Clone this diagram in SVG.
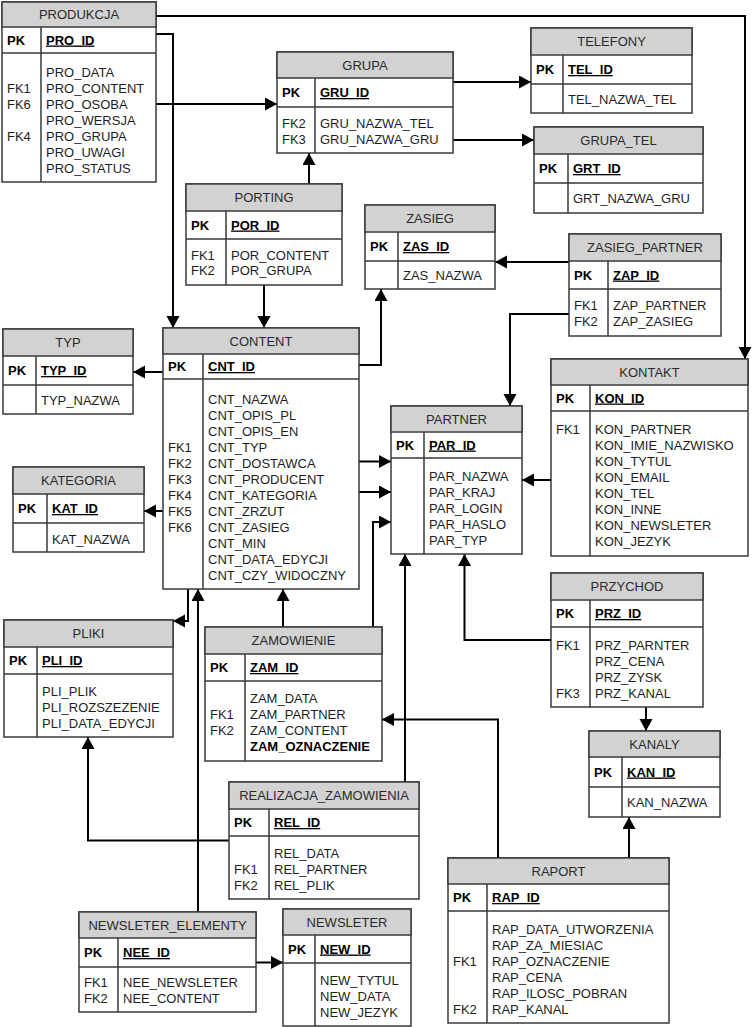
<svg xmlns="http://www.w3.org/2000/svg" width="753" height="1027" viewBox="0 0 753 1027">
<defs>
<marker id="arr" markerUnits="userSpaceOnUse" markerWidth="13" markerHeight="14" refX="12" refY="6.5" orient="auto"><path d="M0,0 L12,6.5 L0,13 z" fill="#000"/></marker>
<style>
.box{fill:#fff;stroke:#3a3a3a;stroke-width:1.5}
.hdr{fill:#d2d2d2;stroke:#3a3a3a;stroke-width:1.5}
.ln{stroke:#3a3a3a;stroke-width:1.5;fill:none}
.c{fill:none;stroke:#000;stroke-width:2;marker-end:url(#arr)}
text{font-family:"Liberation Sans",Arial,sans-serif;font-size:13px;fill:#1e1e1e}
.t{text-anchor:middle;fill:#2a2a2a}
.pk{font-weight:bold;fill:#000}
.id{font-weight:bold;fill:#000;text-decoration:underline}
.b{font-weight:bold;fill:#000}
</style>
</defs>
<g id="connectors">
<path class="c" d="M156,16 H745 V359"/>
<path class="c" d="M156,34 H173 V328"/>
<path class="c" d="M156,104 H277"/>
<path class="c" d="M309,184 V153"/>
<path class="c" d="M453,82 H531"/>
<path class="c" d="M453,140 H534"/>
<path class="c" d="M264,285 V328"/>
<path class="c" d="M163,372 H133"/>
<path class="c" d="M359,365 H381 V289"/>
<path class="c" d="M163,511 H144"/>
<path class="c" d="M359,461.5 H391"/>
<path class="c" d="M359,492 H391"/>
<path class="c" d="M373,627 V522 H391"/>
<path class="c" d="M283,627 V589"/>
<path class="c" d="M188,589 V621 H173"/>
<path class="c" d="M198,912 V589"/>
<path class="c" d="M229,840.5 H88 V737"/>
<path class="c" d="M405,782 V554"/>
<path class="c" d="M551,640 H464.5 V554"/>
<path class="c" d="M551,480 H522"/>
<path class="c" d="M569,262 H495"/>
<path class="c" d="M569,314 H510 V406"/>
<path class="c" d="M646,707 V731"/>
<path class="c" d="M629,858 V817"/>
<path class="c" d="M498,858 V719.5 H382"/>
<path class="c" d="M256,962.5 H283"/>
</g>

<g id="PRODUKCJA">
<rect class="box" x="2" y="2" width="154" height="180"/>
<rect class="hdr" x="2" y="2" width="154" height="25"/>
<path class="ln" d="M2,53 H156 M41,27 V182"/>
<text class="t" x="79" y="19">PRODUKCJA</text>
<text class="pk" x="7" y="44.5">PK</text>
<text class="id" x="46" y="44.5">PRO_ID</text>
<text x="7" y="92.5">FK1</text><text x="7" y="108.5">FK6</text><text x="7" y="140.5">FK4</text>
<text x="46" y="76.5">PRO_DATA</text>
<text x="46" y="92.5">PRO_CONTENT</text>
<text x="46" y="108.5">PRO_OSOBA</text>
<text x="46" y="124.5">PRO_WERSJA</text>
<text x="46" y="140.5">PRO_GRUPA</text>
<text x="46" y="156.5">PRO_UWAGI</text>
<text x="46" y="172.5">PRO_STATUS</text>
</g>

<g id="GRUPA">
<rect class="box" x="277" y="52" width="176" height="101"/>
<rect class="hdr" x="277" y="52" width="176" height="26"/>
<path class="ln" d="M277,107 H453 M315,78 V153"/>
<text class="t" x="365" y="69.5">GRUPA</text>
<text class="pk" x="282" y="97">PK</text>
<text class="id" x="320" y="97">GRU_ID</text>
<text x="282" y="127.5">FK2</text><text x="282" y="143.5">FK3</text>
<text x="320" y="127.5">GRU_NAZWA_TEL</text>
<text x="320" y="143.5">GRU_NAZWA_GRU</text>
</g>

<g id="TELEFONY">
<rect class="box" x="531" y="28" width="161" height="85"/>
<rect class="hdr" x="531" y="28" width="161" height="27"/>
<path class="ln" d="M531,84 H692 M563,55 V113"/>
<text class="t" x="611.5" y="46">TELEFONY</text>
<text class="pk" x="536" y="74">PK</text>
<text class="id" x="568" y="74">TEL_ID</text>
<text x="568" y="104">TEL_NAZWA_TEL</text>
</g>

<g id="GRUPA_TEL">
<rect class="box" x="534" y="127" width="169" height="86"/>
<rect class="hdr" x="534" y="127" width="169" height="27"/>
<path class="ln" d="M534,183 H703 M568,154 V213"/>
<text class="t" x="618.5" y="145">GRUPA_TEL</text>
<text class="pk" x="539" y="173">PK</text>
<text class="id" x="573" y="173">GRT_ID</text>
<text x="573" y="203">GRT_NAZWA_GRU</text>
</g>

<g id="PORTING">
<rect class="box" x="186" y="184" width="156" height="101"/>
<rect class="hdr" x="186" y="184" width="156" height="27"/>
<path class="ln" d="M186,239 H342 M226,211 V285"/>
<text class="t" x="264" y="202">PORTING</text>
<text class="pk" x="191" y="229.5">PK</text>
<text class="id" x="231" y="229.5">POR_ID</text>
<text x="191" y="259.5">FK1</text><text x="191" y="275">FK2</text>
<text x="231" y="259.5">POR_CONTENT</text>
<text x="231" y="275">POR_GRUPA</text>
</g>

<g id="CONTENT">
<rect class="box" x="163" y="328" width="196" height="261"/>
<rect class="hdr" x="163" y="328" width="196" height="26"/>
<path class="ln" d="M163,379 H359 M203,354 V589"/>
<text class="t" x="261" y="345.5">CONTENT</text>
<text class="pk" x="168" y="371">PK</text>
<text class="id" x="208" y="371">CNT_ID</text>
<text x="168" y="451.5">FK1</text><text x="168" y="467.5">FK2</text><text x="168" y="483.5">FK3</text>
<text x="168" y="499.5">FK4</text><text x="168" y="515.5">FK5</text><text x="168" y="531.5">FK6</text>
<text x="208" y="403.5">CNT_NAZWA</text>
<text x="208" y="419.5">CNT_OPIS_PL</text>
<text x="208" y="435.5">CNT_OPIS_EN</text>
<text x="208" y="451.5">CNT_TYP</text>
<text x="208" y="467.5">CNT_DOSTAWCA</text>
<text x="208" y="483.5">CNT_PRODUCENT</text>
<text x="208" y="499.5">CNT_KATEGORIA</text>
<text x="208" y="515.5">CNT_ZRZUT</text>
<text x="208" y="531.5">CNT_ZASIEG</text>
<text x="208" y="547.5">CNT_MIN</text>
<text x="208" y="563.5">CNT_DATA_EDYCJI</text>
<text x="208" y="579.5">CNT_CZY_WIDOCZNY</text>
</g>

<g id="TYP">
<rect class="box" x="3" y="329" width="130" height="85"/>
<rect class="hdr" x="3" y="329" width="130" height="27"/>
<path class="ln" d="M3,385 H133 M36,356 V414"/>
<text class="t" x="68" y="347">TYP</text>
<text class="pk" x="8" y="375">PK</text>
<text class="id" x="41" y="375">TYP_ID</text>
<text x="41" y="404.5">TYP_NAZWA</text>
</g>

<g id="KATEGORIA">
<rect class="box" x="13" y="467" width="131" height="85"/>
<rect class="hdr" x="13" y="467" width="131" height="27"/>
<path class="ln" d="M13,523 H144 M47,494 V552"/>
<text class="t" x="78.5" y="485">KATEGORIA</text>
<text class="pk" x="18" y="513">PK</text>
<text class="id" x="52" y="513">KAT_ID</text>
<text x="52" y="543.5">KAT_NAZWA</text>
</g>

<g id="ZASIEG">
<rect class="box" x="365" y="205" width="130" height="84"/>
<rect class="hdr" x="365" y="205" width="130" height="27"/>
<path class="ln" d="M365,261 H495 M398,232 V289"/>
<text class="t" x="430" y="223">ZASIEG</text>
<text class="pk" x="370" y="251">PK</text>
<text class="id" x="403" y="251">ZAS_ID</text>
<text x="403" y="280">ZAS_NAZWA</text>
</g>

<g id="ZASIEG_PARTNER">
<rect class="box" x="569" y="234" width="152" height="102"/>
<rect class="hdr" x="569" y="234" width="152" height="27"/>
<path class="ln" d="M569,289 H721 M608,261 V336"/>
<text class="t" x="645" y="252">ZASIEG_PARTNER</text>
<text class="pk" x="574" y="279.5">PK</text>
<text class="id" x="613" y="279.5">ZAP_ID</text>
<text x="574" y="310">FK1</text><text x="574" y="326">FK2</text>
<text x="613" y="310">ZAP_PARTNER</text>
<text x="613" y="326">ZAP_ZASIEG</text>
</g>

<g id="KONTAKT">
<rect class="box" x="551" y="359" width="197" height="197"/>
<rect class="hdr" x="551" y="359" width="197" height="26"/>
<path class="ln" d="M551,411 H748 M590,385 V556"/>
<text class="t" x="649.5" y="376.5">KONTAKT</text>
<text class="pk" x="556" y="402.5">PK</text>
<text class="id" x="595" y="402.5">KON_ID</text>
<text x="556" y="434">FK1</text>
<text x="595" y="434">KON_PARTNER</text>
<text x="595" y="450">KON_IMIE_NAZWISKO</text>
<text x="595" y="466">KON_TYTUL</text>
<text x="595" y="482">KON_EMAIL</text>
<text x="595" y="498">KON_TEL</text>
<text x="595" y="514">KON_INNE</text>
<text x="595" y="530">KON_NEWSLETER</text>
<text x="595" y="546">KON_JEZYK</text>
</g>

<g id="PARTNER">
<rect class="box" x="391" y="406" width="131" height="148"/>
<rect class="hdr" x="391" y="406" width="131" height="26"/>
<path class="ln" d="M391,458 H522 M424,432 V554"/>
<text class="t" x="456.5" y="423.5">PARTNER</text>
<text class="pk" x="396" y="449.5">PK</text>
<text class="id" x="429" y="449.5">PAR_ID</text>
<text x="429" y="481">PAR_NAZWA</text>
<text x="429" y="497">PAR_KRAJ</text>
<text x="429" y="513">PAR_LOGIN</text>
<text x="429" y="529">PAR_HASLO</text>
<text x="429" y="545">PAR_TYP</text>
</g>

<g id="PLIKI">
<rect class="box" x="4" y="620" width="169" height="117"/>
<rect class="hdr" x="4" y="620" width="169" height="27"/>
<path class="ln" d="M4,674 H173 M37,647 V737"/>
<text class="t" x="88.5" y="638">PLIKI</text>
<text class="pk" x="9" y="665">PK</text>
<text class="id" x="42" y="665">PLI_ID</text>
<text x="42" y="696">PLI_PLIK</text>
<text x="42" y="712">PLI_ROZSZEZENIE</text>
<text x="42" y="728">PLI_DATA_EDYCJI</text>
</g>

<g id="ZAMOWIENIE">
<rect class="box" x="205" y="627" width="177" height="134"/>
<rect class="hdr" x="205" y="627" width="177" height="27"/>
<path class="ln" d="M205,681 H382 M245,654 V761"/>
<text class="t" x="293.5" y="645">ZAMOWIENIE</text>
<text class="pk" x="210" y="672">PK</text>
<text class="id" x="250" y="672">ZAM_ID</text>
<text x="210" y="719">FK1</text><text x="210" y="735">FK2</text>
<text x="250" y="703">ZAM_DATA</text>
<text x="250" y="719">ZAM_PARTNER</text>
<text x="250" y="735">ZAM_CONTENT</text>
<text class="b" x="250" y="751">ZAM_OZNACZENIE</text>
</g>

<g id="REALIZACJA_ZAMOWIENIA">
<rect class="box" x="229" y="782" width="190" height="117"/>
<rect class="hdr" x="229" y="782" width="190" height="27"/>
<path class="ln" d="M229,836 H419 M269,809 V899"/>
<text class="t" x="324" y="800">REALIZACJA_ZAMOWIENIA</text>
<text class="pk" x="234" y="827">PK</text>
<text class="id" x="274" y="827">REL_ID</text>
<text x="234" y="874">FK1</text><text x="234" y="890">FK2</text>
<text x="274" y="858">REL_DATA</text>
<text x="274" y="874">REL_PARTNER</text>
<text x="274" y="890">REL_PLIK</text>
</g>

<g id="NEWSLETER_ELEMENTY">
<rect class="box" x="79" y="912" width="177" height="100"/>
<rect class="hdr" x="79" y="912" width="177" height="26"/>
<path class="ln" d="M79,967 H256 M118,938 V1012"/>
<text class="t" x="167.5" y="929.5">NEWSLETER_ELEMENTY</text>
<text class="pk" x="84" y="957">PK</text>
<text class="id" x="123" y="957">NEE_ID</text>
<text x="84" y="987">FK1</text><text x="84" y="1003">FK2</text>
<text x="123" y="987">NEE_NEWSLETER</text>
<text x="123" y="1003">NEE_CONTENT</text>
</g>

<g id="NEWSLETER">
<rect class="box" x="283" y="909" width="128" height="117"/>
<rect class="hdr" x="283" y="909" width="128" height="26"/>
<path class="ln" d="M283,963 H411 M315,935 V1026"/>
<text class="t" x="347" y="926.5">NEWSLETER</text>
<text class="pk" x="288" y="953.5">PK</text>
<text class="id" x="320" y="953.5">NEW_ID</text>
<text x="320" y="984.5">NEW_TYTUL</text>
<text x="320" y="1000.5">NEW_DATA</text>
<text x="320" y="1016.5">NEW_JEZYK</text>
</g>

<g id="PRZYCHOD">
<rect class="box" x="551" y="573" width="152" height="134"/>
<rect class="hdr" x="551" y="573" width="152" height="27"/>
<path class="ln" d="M551,627 H703 M590,600 V707"/>
<text class="t" x="627" y="591">PRZYCHOD</text>
<text class="pk" x="556" y="618">PK</text>
<text class="id" x="595" y="618">PRZ_ID</text>
<text x="556" y="649.5">FK1</text><text x="556" y="697.5">FK3</text>
<text x="595" y="649.5">PRZ_PARNTER</text>
<text x="595" y="665.5">PRZ_CENA</text>
<text x="595" y="681.5">PRZ_ZYSK</text>
<text x="595" y="697.5">PRZ_KANAL</text>
</g>

<g id="KANALY">
<rect class="box" x="589" y="731" width="131" height="86"/>
<rect class="hdr" x="589" y="731" width="131" height="26"/>
<path class="ln" d="M589,787 H720 M622,757 V817"/>
<text class="t" x="654.5" y="748.5">KANALY</text>
<text class="pk" x="594" y="776.5">PK</text>
<text class="id" x="627" y="776.5">KAN_ID</text>
<text x="627" y="807">KAN_NAZWA</text>
</g>

<g id="RAPORT">
<rect class="box" x="448" y="858" width="221" height="165"/>
<rect class="hdr" x="448" y="858" width="221" height="26"/>
<path class="ln" d="M448,911 H669 M487,884 V1023"/>
<text class="t" x="558.5" y="875.5">RAPORT</text>
<text class="pk" x="453" y="902">PK</text>
<text class="id" x="492" y="902">RAP_ID</text>
<text x="453" y="966">FK1</text><text x="453" y="1014">FK2</text>
<text x="492" y="934">RAP_DATA_UTWORZENIA</text>
<text x="492" y="950">RAP_ZA_MIESIAC</text>
<text x="492" y="966">RAP_OZNACZENIE</text>
<text x="492" y="982">RAP_CENA</text>
<text x="492" y="998">RAP_ILOSC_POBRAN</text>
<text x="492" y="1014">RAP_KANAL</text>
</g>
</svg>
